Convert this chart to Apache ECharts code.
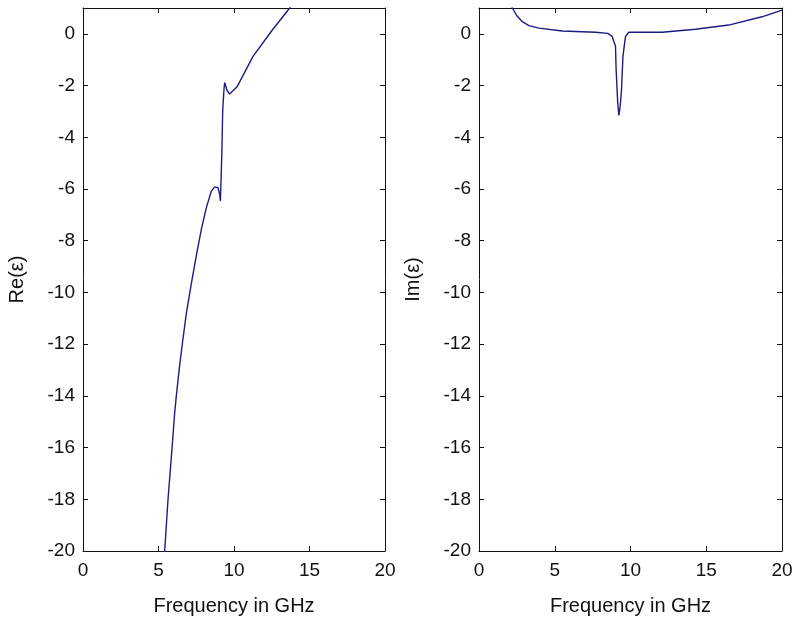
<!DOCTYPE html>
<html>
<head>
<meta charset="utf-8">
<script src="https://cdn.jsdelivr.net/npm/echarts@6/dist/echarts.min.js"></script>
<style>
  html, body { margin: 0; padding: 0; background: #fff; }
  #chart { width: 796px; height: 621px; }
</style>
</head>
<body>
<div id="chart"></div>
<script>
// Re(eps) curve
const reFreq = [5.30, 5.41, 5.63, 5.90, 6.07, 6.18, 6.40, 6.62, 6.85, 7.18, 7.51, 7.84, 8.17, 8.50, 8.72, 8.94, 9.05, 9.10,
                9.20, 9.25, 9.33, 9.38, 9.45, 9.55, 9.71, 10.2, 11.26, 12.5, 13.69, 14.0];
const reVals = [-21.0, -20.0, -18.0, -16.0, -14.67, -14.0, -12.82, -11.8, -10.79, -9.64, -8.56, -7.55, -6.72, -6.08, -5.92, -5.95, -6.2, -6.46,
                -4.5, -3.0, -2.2, -1.88, -1.95, -2.2, -2.33, -2.05, -0.87, 0.12, 1.0, 1.25];

// Im(eps) curve
const imFreq = [2.0, 2.2, 2.5, 2.86, 3.3, 3.96, 5.5, 7.69, 8.5, 8.79, 9.01, 9.05, 9.15, 9.23, 9.32, 9.41, 9.5, 9.67, 9.89,
                12.09, 14.28, 16.48, 18.68, 20.0];
const imVals = [1.4, 1.0, 0.7, 0.47, 0.32, 0.22, 0.11, 0.06, 0.02, -0.1, -0.48, -1.37, -2.6, -3.16, -2.8, -2.14, -0.87, -0.1, 0.06,
                0.06, 0.18, 0.34, 0.66, 0.92];

const xTicks = [0, 5, 10, 15, 20];
const yRange = [-20, 1];

const font = 'Liberation Sans';
const ink = '#111';
const lineBlue = '#1c1c80';

const pair = (xs, ys) => xs.map((x, i) => [x, ys[i]]);

const grids = [
  { left: 83, top: 8, width: 302, height: 550 },
  { left: 479, top: 8, width: 303, height: 550 }
];

function xAxes(gi) {
  const base = {
    type: 'value', gridIndex: gi, min: xTicks[0], max: xTicks[xTicks.length - 1], interval: 5,
    axisLine: { onZero: false, lineStyle: { color: ink, width: 1 } },
    axisTick: { inside: true, length: 5, lineStyle: { color: ink } },
    splitLine: { show: false }
  };
  return [
    Object.assign({}, base, {
      position: 'bottom',
      name: 'Frequency in GHz', nameLocation: 'middle', nameGap: 45,
      nameTextStyle: { fontFamily: font, fontSize: 20, color: ink },
      axisLabel: { fontFamily: font, fontSize: 19, color: ink, margin: 10 }
    }),
    Object.assign({}, base, { position: 'top', axisLabel: { show: false } })
  ];
}

function yAxes(gi, name) {
  const base = {
    type: 'value', gridIndex: gi, min: yRange[0], max: yRange[1], interval: 2,
    axisLine: { onZero: false, lineStyle: { color: ink, width: 1 } },
    axisTick: { inside: true, length: 5, lineStyle: { color: ink } },
    splitLine: { show: false }
  };
  return [
    Object.assign({}, base, {
      position: 'left',
      name: name, nameLocation: 'middle', nameGap: 56,
      nameTextStyle: { fontFamily: font, fontSize: 20, color: ink },
      axisLabel: { fontFamily: font, fontSize: 19, color: ink, margin: 8, showMaxLabel: false }
    }),
    Object.assign({}, base, { position: 'right', axisLabel: { show: false } })
  ];
}

const chart = echarts.init(document.getElementById('chart'));
chart.setOption({
  backgroundColor: '#fff',
  animation: false,
  grid: grids,
  xAxis: [...xAxes(0), ...xAxes(1)],
  yAxis: [...yAxes(0, 'Re(ε)'), ...yAxes(1, 'Im(ε)')],
  series: [
    {
      type: 'line', xAxisIndex: 0, yAxisIndex: 0, data: pair(reFreq, reVals),
      showSymbol: false, clip: true, lineStyle: { color: lineBlue, width: 1.4 }
    },
    {
      type: 'line', xAxisIndex: 2, yAxisIndex: 2, data: pair(imFreq, imVals),
      showSymbol: false, clip: true, lineStyle: { color: lineBlue, width: 1.4 }
    }
  ]
});
</script>
</body>
</html>
